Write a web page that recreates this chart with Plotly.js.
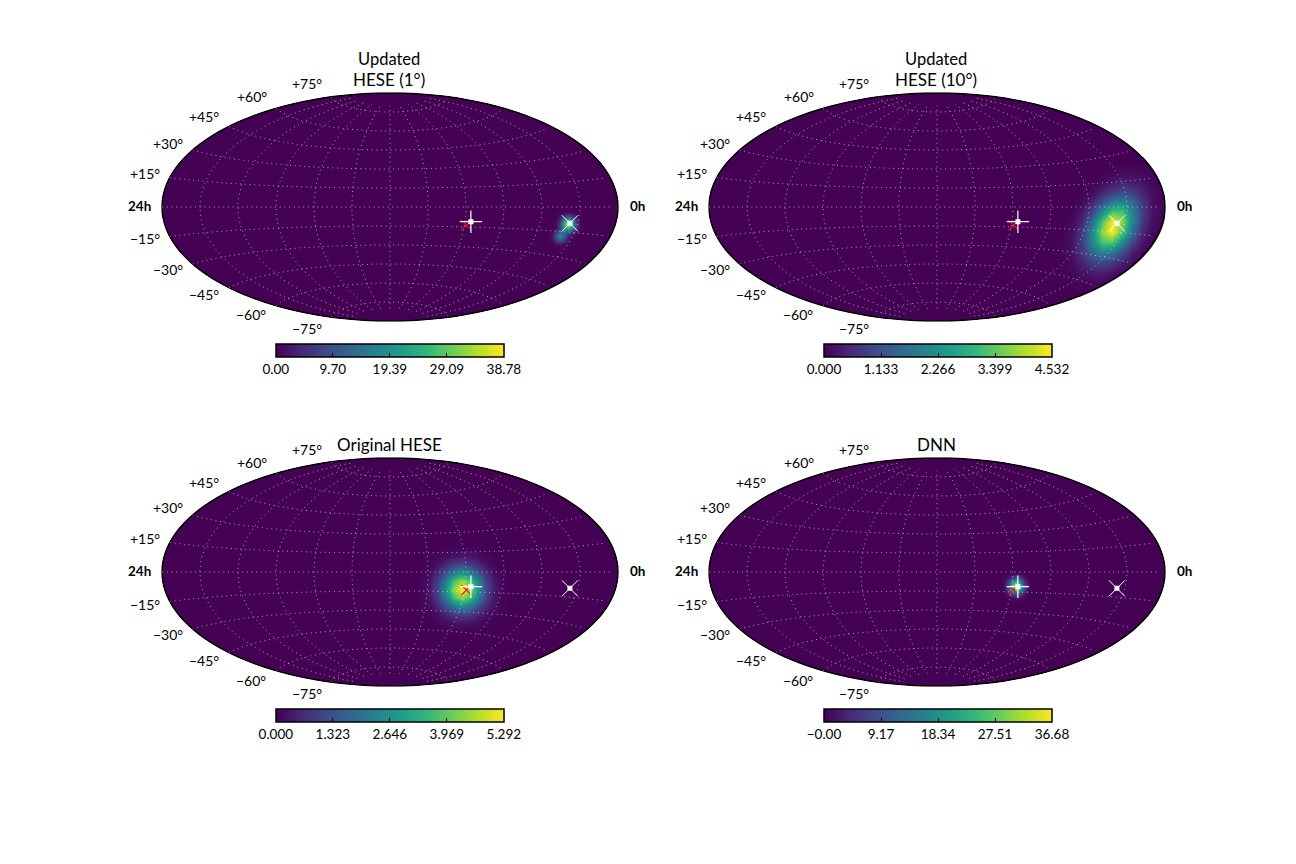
<!DOCTYPE html>
<html><head><meta charset="utf-8">
<script src="https://cdn.plot.ly/plotly-3.0.1.min.js"></script>
<style>html,body{margin:0;padding:0;background:#fff}#chart{width:1296px;height:864px}</style>
</head><body><div id="chart"></div>
<script>
// ---------- data ----------
var titles1 = ["Updated", "Updated", "", ""];
var titles2 = ["HESE (1°)", "HESE (10°)", "Original HESE", "DNN"];
var peaks = [38.78, 4.532, 5.292, 36.68];
var tickText1 = ["0.00", "9.70", "19.39", "29.09", "38.78"];
var tickText2 = ["0.000", "1.133", "2.266", "3.399", "4.532"];
var tickText3 = ["0.000", "1.323", "2.646", "3.969", "5.292"];
var tickText4 = ["\u22120.00", "9.17", "18.34", "27.51", "36.68"];
var latLabels = ["+75°", "+60°", "+45°", "+30°", "+15°", "\u221215°", "\u221230°", "\u221245°", "\u221260°", "\u221275°"];
var lonGrid = [-150, -120, -90, -60, -30, 0, 30, 60, 90, 120, 150];
var parallels = [-75, -60, -45, -30, -15, 0, 15, 30, 45, 60, 75];

// source positions: right ascension and declination, degrees
var plusRA = 115.3, plusDec = -11;
var crossRA = 36.2, crossDec = -9.8;
var redRA = 118.5, redDec = -13.6;

// sky-map intensity patches, percent of each panel's peak
var blob1X = [158, 162, 166, 170, 174, 178, 182, 186, 190, 194, 198];
var blob1Y = [1, 5, 9, 13, 17, 21, 25, 29, 33, 37, 41];
var blob1Z = [
 [0,0,0,0,0,0,0,0,0,0,0],
 [0,0,.1,.55,1.8,2.7,1.8,.55,.1,0,0],
 [0,0,.55,4,13.5,20,13.5,4,.55,0,0],
 [0,.1,1.8,13.5,45,67,45,13.5,1.8,.1,0],
 [0,.2,2.7,20,67,100,67,20,2.7,.2,0],
 [0,.6,4.3,18,47,67,45,13.5,1.8,.1,0],
 [.3,3,16,33,32,25,14,4,.5,0,0],
 [.4,6,28,50,31,9,2,.5,0,0,0],
 [.3,3.5,17,28,17,3.5,.2,0,0,0,0],
 [0,.7,3.4,5.8,3.4,.7,0,0,0,0,0],
 [0,0,.3,.4,.3,0,0,0,0,0,0]
];
var blob2X = [115, 125, 135, 145, 155, 165, 175, 185, 195, 205, 215, 225];
var blob2Y = [-45, -35, -25, -15, -5, 5, 15, 25, 35, 45, 55, 65, 75, 85];
var blob2Z = [
 [0,0,0,0,0,0,0,0,0,0,0,0],
 [0,0,0,0,.1,.5,1.4,2.3,2.5,1.7,.8,.2],
 [0,0,0,.1,.7,2.5,5.7,8.3,7.8,4.8,1.9,.5],
 [0,0,.1,.6,3,9,17.7,22.5,18.6,10,3.5,.8],
 [0,0,.3,2.2,9,24,41,46,34,16,4.8,.9],
 [0,.1,1,5.7,21,48,73,72,45,19,5,.9],
 [0,.3,2.3,11,36,73,100,83,46,17,3.9,.6],
 [0,.6,3.9,17,46,83,100,73,36,11,2.3,.3],
 [0,.9,5,19,45,72,73,48,21,5.7,1,.1],
 [0,.9,4.8,16,34,46,41,24,9,2.2,.3,0],
 [0,.8,3.5,10,18.6,22.5,17.7,9,3,.6,.1,0],
 [0,.5,1.9,4.8,7.8,8.3,5.7,2.5,.7,.1,0,0],
 [0,.2,.8,1.7,2.5,2.3,1.4,.5,.1,0,0,0],
 [0,0,0,0,0,0,0,0,0,0,0,0]
];
var blob3X = [24, 32, 40, 48, 56, 64, 72, 80, 88, 96, 104, 112, 120];
var blob3Y = [-31, -23, -15, -7, 1, 9, 17, 25, 33, 41, 49, 57, 65];
var blob3Z = [
 [0,0,0,0,0,0,0,0,0,0,0,0,0],
 [0,0,.1,.4,.9,1.4,1.7,1.4,.9,.4,.1,0,0],
 [0,.1,.5,1.7,3.8,6.2,7.4,6.2,3.8,1.7,.5,.1,0],
 [0,.4,1.7,5.3,12,19.6,23,19.6,12,5.3,1.7,.4,0],
 [0,.9,3.8,12,27,44,52,44,27,12,3.8,.9,0],
 [0,1.4,6.2,19.6,44,72,85,72,44,19.6,6.2,1.4,0],
 [0,1.7,7.4,23,52,85,100,85,52,23,7.4,1.7,0],
 [0,1.4,6.2,19.6,44,72,85,72,44,19.6,6.2,1.4,0],
 [0,.9,3.8,12,27,44,52,44,27,12,3.8,.9,0],
 [0,.4,1.7,5.3,12,19.6,23,19.6,12,5.3,1.7,.4,0],
 [0,.1,.5,1.7,3.8,6.2,7.4,6.2,3.8,1.7,.5,.1,0],
 [0,0,.1,.4,.9,1.4,1.7,1.4,.9,.4,.1,0,0],
 [0,0,0,0,0,0,0,0,0,0,0,0,0]
];
var blob4X = [59, 63, 67, 71, 75, 79, 83, 87, 91, 95, 99];
var blob4Y = [-6, -2, 2, 6, 10, 14, 18, 22, 26, 30, 34];
var blob4Z = [
 [0,0,0,0,0,0,0,0,0,0,0],
 [0,0,0,.1,.3,.4,.3,.1,0,0,0],
 [0,0,.2,1.1,3.1,4.4,3.1,1.1,.2,0,0],
 [0,.1,1.1,6.2,17.6,25,17.6,6.2,1.1,.1,0],
 [0,.3,3.1,17.6,50,71,50,17.6,3.1,.3,0],
 [0,.4,4.4,25,71,100,71,25,4.4,.4,0],
 [0,.3,3.1,17.6,50,71,50,17.6,3.1,.3,0],
 [0,.1,1.1,6.2,17.6,25,17.6,6.2,1.1,.1,0],
 [0,0,.2,1.1,3.1,4.4,3.1,1.1,.2,0,0],
 [0,0,0,.1,.3,.4,.3,.1,0,0,0],
 [0,0,0,0,0,0,0,0,0,0,0]
];

// ---------- styles / layout ----------
var blobs = [[blob1X,blob1Y,blob1Z],[blob2X,blob2Y,blob2Z],[blob3X,blob3Y,blob3Z],[blob4X,blob4Y,blob4Z]];
var tickTexts = [tickText1, tickText2, tickText3, tickText4];
var W = 1296, H = 864;
var centres = [[390,207],[937,207],[390,572],[937,572]];
var barCentres = [[389.8,344],[938,344],[389.8,709],[938,709]];
var latPos = [[307,84],[252,97],[204,117],[168,143],[145,173],[145,239],[168,269],[204,295],[251,315],[307,328]];
var FONT = "Lato, 'Noto Sans', sans-serif";
var HW = 228, HH = 114;
var BG = '#440154';
var viridis = [[0,'#440154'],[1/9,'#482878'],[2/9,'#3e4989'],[3/9,'#31688e'],[4/9,'#26828e'],[5/9,'#1f9e89'],[6/9,'#35b779'],[7/9,'#6ece58'],[8/9,'#b5de2b'],[1,'#fde725']];
function px(x){return x/W;} function py(y){return 1-y/H;}
function lonOf(ra){return 180-ra;}

// white sheet with an elliptical hole: keeps the colour patches inside the sky ellipse
function maskPath(){
  var a=HW+1, b=HH+1, k=0.5522847, e=a+2, f=b+2;
  return 'M'+(-e)+','+(-f)+' L'+e+','+(-f)+' L'+e+','+f+' L'+(-e)+','+f+' Z '+
    'M'+(-a)+',0 C'+(-a)+','+(-k*b)+' '+(-k*a)+','+(-b)+' 0,'+(-b)+
    ' C'+(k*a)+','+(-b)+' '+a+','+(-k*b)+' '+a+',0'+
    ' C'+a+','+(k*b)+' '+(k*a)+','+b+' 0,'+b+
    ' C'+(-k*a)+','+b+' '+(-a)+','+(k*b)+' '+(-a)+',0 Z';
}

var traces = [], annotations = [], shapes = [];
var layout = {width:W, height:H, margin:{l:0,r:0,t:0,b:0}, paper_bgcolor:'#fff', plot_bgcolor:'rgba(0,0,0,0)', showlegend:false, font:{family:FONT,color:'#000'}};

function note(text,x,y,size,bold){
  annotations.push({text: bold?'<b>'+text+'</b>':text, x:px(x), y:py(y), xref:'paper', yref:'paper', xanchor:'center', yanchor:'middle', showarrow:false, font:{family:FONT,size:size,color:'#000'}});
}

centres.forEach(function(c,i){
  var sfx = i===0?'':String(i+1);
  var dx=[px(c[0]-HW),px(c[0]+HW)], dy=[py(c[1]+HH),py(c[1]-HH)];
  layout['xaxis'+sfx]={domain:dx,range:[-HW,HW],visible:false,fixedrange:true,anchor:'y'+sfx};
  layout['yaxis'+sfx]={domain:dy,range:[HH,-HH],visible:false,fixedrange:true,anchor:'x'+sfx};
  layout['geo'+sfx]={domain:{x:dx,y:dy},projection:{type:'aitoff'},bgcolor:'rgba(0,0,0,0)',
    showland:false,showocean:false,showlakes:false,showrivers:false,showcountries:false,showcoastlines:false,showsubunits:false,
    showframe:true,framecolor:'#000',framewidth:1.6,
    lonaxis:{showgrid:false,range:[-180,180]},lataxis:{showgrid:false,range:[-90,90]}};
  shapes.push({type:'circle',xref:'x'+sfx,yref:'y'+sfx,x0:-HW,x1:HW,y0:-HH,y1:HH,fillcolor:BG,line:{width:0},layer:'below'});
  shapes.push({type:'path',xref:'x'+sfx,yref:'y'+sfx,path:maskPath(),fillcolor:'#fff',fillrule:'evenodd',line:{width:0},layer:'above'});
  var bc=barCentres[i];
  var b=blobs[i], peak=peaks[i];
  traces.push({type:'heatmap',xaxis:'x'+sfx,yaxis:'y'+sfx,x:b[0],y:b[1],
    z:b[2].map(function(r){return r.map(function(v){return v*peak/100;});}),
    zmin:0,zmax:peak,zsmooth:'best',colorscale:viridis,hoverinfo:'skip',
    colorbar:{orientation:'h',xref:'paper',yref:'paper',x:px(bc[0]),xanchor:'center',y:py(bc[1]),yanchor:'top',
      lenmode:'pixels',len:228,thicknessmode:'pixels',thickness:12.5,xpad:0,ypad:0,outlinecolor:'#000',outlinewidth:1.5,borderwidth:0,
      tickmode:'array',tickvals:[0,peak/4,peak/2,peak*3/4,peak],ticktext:tickTexts[i],ticks:'inside',ticklen:4,tickwidth:1,tickcolor:'#000',
      tickfont:{family:FONT,size:13.5,color:'#000'}}});
  // graticule
  var gridStyle={color:'rgba(255,255,255,0.6)',width:1,dash:'1px,3.7px'};
  parallels.forEach(function(lat){
    var lons=[],lats=[];for(var l=-179.9;l<=179.9;l+=5){lons.push(l);lats.push(lat);}
    traces.push({type:'scattergeo',geo:'geo'+sfx,mode:'lines',lon:lons,lat:lats,line:gridStyle,hoverinfo:'skip'});
  });
  lonGrid.forEach(function(lon){
    var lons=[],lats=[];for(var a=-80;a<=80;a+=5){lons.push(lon);lats.push(a);}
    traces.push({type:'scattergeo',geo:'geo'+sfx,mode:'lines',lon:lons,lat:lats,line:gridStyle,hoverinfo:'skip'});
  });
  // sources
  traces.push({type:'scattergeo',geo:'geo'+sfx,mode:'markers',lon:[lonOf(redRA)],lat:[redDec],marker:{symbol:'x-thin',size:10,line:{color:'#e8102a',width:1.2}},hoverinfo:'skip'});
  traces.push({type:'scattergeo',geo:'geo'+sfx,mode:'markers',lon:[lonOf(plusRA)],lat:[plusDec],marker:{symbol:'cross-thin',size:16,line:{color:'#fff',width:1.2}},hoverinfo:'skip'});
  traces.push({type:'scattergeo',geo:'geo'+sfx,mode:'markers',lon:[lonOf(crossRA)],lat:[crossDec],marker:{symbol:'x-thin',size:16,line:{color:'#fff',width:1}},hoverinfo:'skip'});
  traces.push({type:'scattergeo',geo:'geo'+sfx,mode:'markers',lon:[lonOf(plusRA),lonOf(crossRA)],lat:[plusDec,crossDec],marker:{symbol:'square',size:5,color:'#fff',line:{width:0}},hoverinfo:'skip'});
  // text
  var ox=c[0]-390, oy=c[1]-207;
  latLabels.forEach(function(t,k){note(t,latPos[k][0]+ox,latPos[k][1]+oy,14,false);});
  note('24h',139+ox,205.5+oy,13.5,true);
  note('0h',637+ox,205.5+oy,13.5,true);
  if(titles1[i]){note(titles1[i],c[0]-1,59.5+oy,16.5,false);note(titles2[i],c[0]-1,79.5+oy,17,false);}
  else{note(titles2[i],c[0]-1,79.5+oy,17,false);}
});
layout.annotations=annotations; layout.shapes=shapes;
Plotly.newPlot('chart',traces,layout,{displayModeBar:false,staticPlot:true});
</script></body></html>
